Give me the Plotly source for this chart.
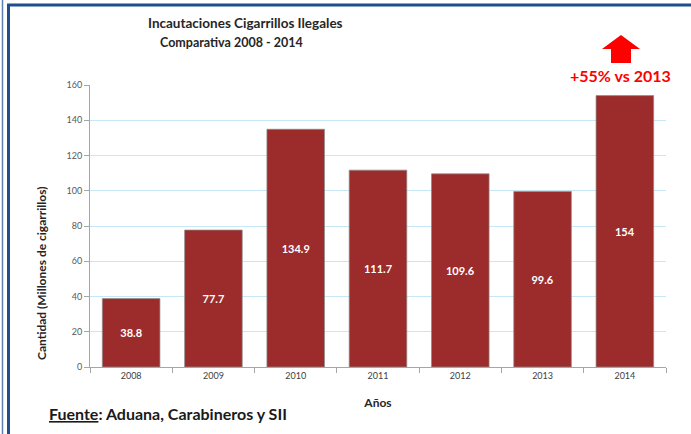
import plotly.graph_objects as go

years = ["2008", "2009", "2010", "2011", "2012", "2013", "2014"]
values = [38.8, 77.7, 134.9, 111.7, 109.6, 99.6, 154]
labels = ["38.8", "77.7", "134.9", "111.7", "109.6", "99.6", "154"]

W, H = 691, 434
L, R, T, B = 90, 25, 85, 67
pw, ph = W - L - R, H - T - B


def px(x):
    return (x - L) / pw


def py(y):
    return (H - B - y) / ph


FONT = "Lato"

fig = go.Figure(go.Bar(
    x=years, y=values, text=["<b>%s</b>" % s for s in labels],
    textposition="inside", insidetextanchor="middle",
    textfont=dict(family=FONT, size=11, color="white"),
    marker=dict(color="#9b2c2b", line=dict(color="rgba(140,140,140,0.7)", width=1)),
    width=0.7,
))

fig.update_layout(
    width=W, height=H,
    margin=dict(l=L, r=R, t=T, b=B),
    paper_bgcolor="white", plot_bgcolor="white",
    showlegend=False,
    font=dict(family=FONT, color="#404040"),
    xaxis=dict(
        type="category", showline=True, linecolor="#a6a6a6", linewidth=1,
        ticks="outside", tickson="boundaries", ticklen=5, tickcolor="#a6a6a6",
        tickfont=dict(size=9, color="#404040"), showgrid=False,
        title=dict(text="<b>Años</b>", font=dict(size=12, color="#262626"), standoff=18),
    ),
    yaxis=dict(
        range=[0, 160], dtick=20, showline=True, linecolor="#a6a6a6", linewidth=1,
        ticks="outside", ticklen=5, tickcolor="#a6a6a6",
        tickfont=dict(size=9, color="#595959"),
        gridcolor="#c6e7f5", gridwidth=1, zeroline=False,
    ),
    uniformtext=dict(minsize=8, mode="show"),
)

anns = [
    dict(text="<b>Incautaciones Cigarrillos Ilegales</b>", x=px(245), y=py(23),
         xanchor="center", yanchor="middle", font=dict(size=13.5, color="#262626")),
    dict(text="<b>Comparativa 2008 - 2014</b>", x=px(231), y=py(43),
         xanchor="center", yanchor="middle", font=dict(size=12.5, color="#262626")),
    dict(text="<b>+55% vs 2013</b>", x=px(620), y=py(75),
         xanchor="center", yanchor="middle", font=dict(size=16, color="#ff0000")),
    dict(text="<b><u>Fuente</u>: Aduana, Carabineros y SII</b>", x=px(47), y=py(413),
         xanchor="left", yanchor="middle", font=dict(size=16, color="#1a1a1a")),
    dict(text="<b>Cantidad (Millones de cigarrillos)</b>", x=px(41), y=py(274),
         xanchor="center", yanchor="middle", textangle=-90,
         font=dict(size=12, color="#262626")),
]
for a in anns:
    a.update(xref="paper", yref="paper", showarrow=False)
fig.update_layout(annotations=anns)

# red up arrow
pts = [(602, 49), (621, 35), (640, 49), (631, 49), (631, 63), (611, 63), (611, 49)]
path = "M " + " L ".join(f"{px(x)},{py(y)}" for x, y in pts) + " Z"
shapes = [
    dict(type="path", path=path, xref="paper", yref="paper",
         fillcolor="#ff0000", line=dict(width=0)),
    # frame
    dict(type="line", xref="paper", yref="paper", x0=px(2.5), x1=px(2.5), y0=py(0), y1=py(434),
         line=dict(color="#5b7fb5", width=1.5)),
    dict(type="line", xref="paper", yref="paper", x0=px(8.5), x1=px(8.5), y0=py(4), y1=py(434),
         line=dict(color="#1f4e8c", width=3)),
    dict(type="line", xref="paper", yref="paper", x0=px(7), x1=px(691), y0=py(5), y1=py(5),
         line=dict(color="#1f4e8c", width=3)),
]
fig.update_layout(shapes=shapes)

fig.write_html("out.html", config={"displayModeBar": False},
               post_script="document.body.style.margin='0';")
